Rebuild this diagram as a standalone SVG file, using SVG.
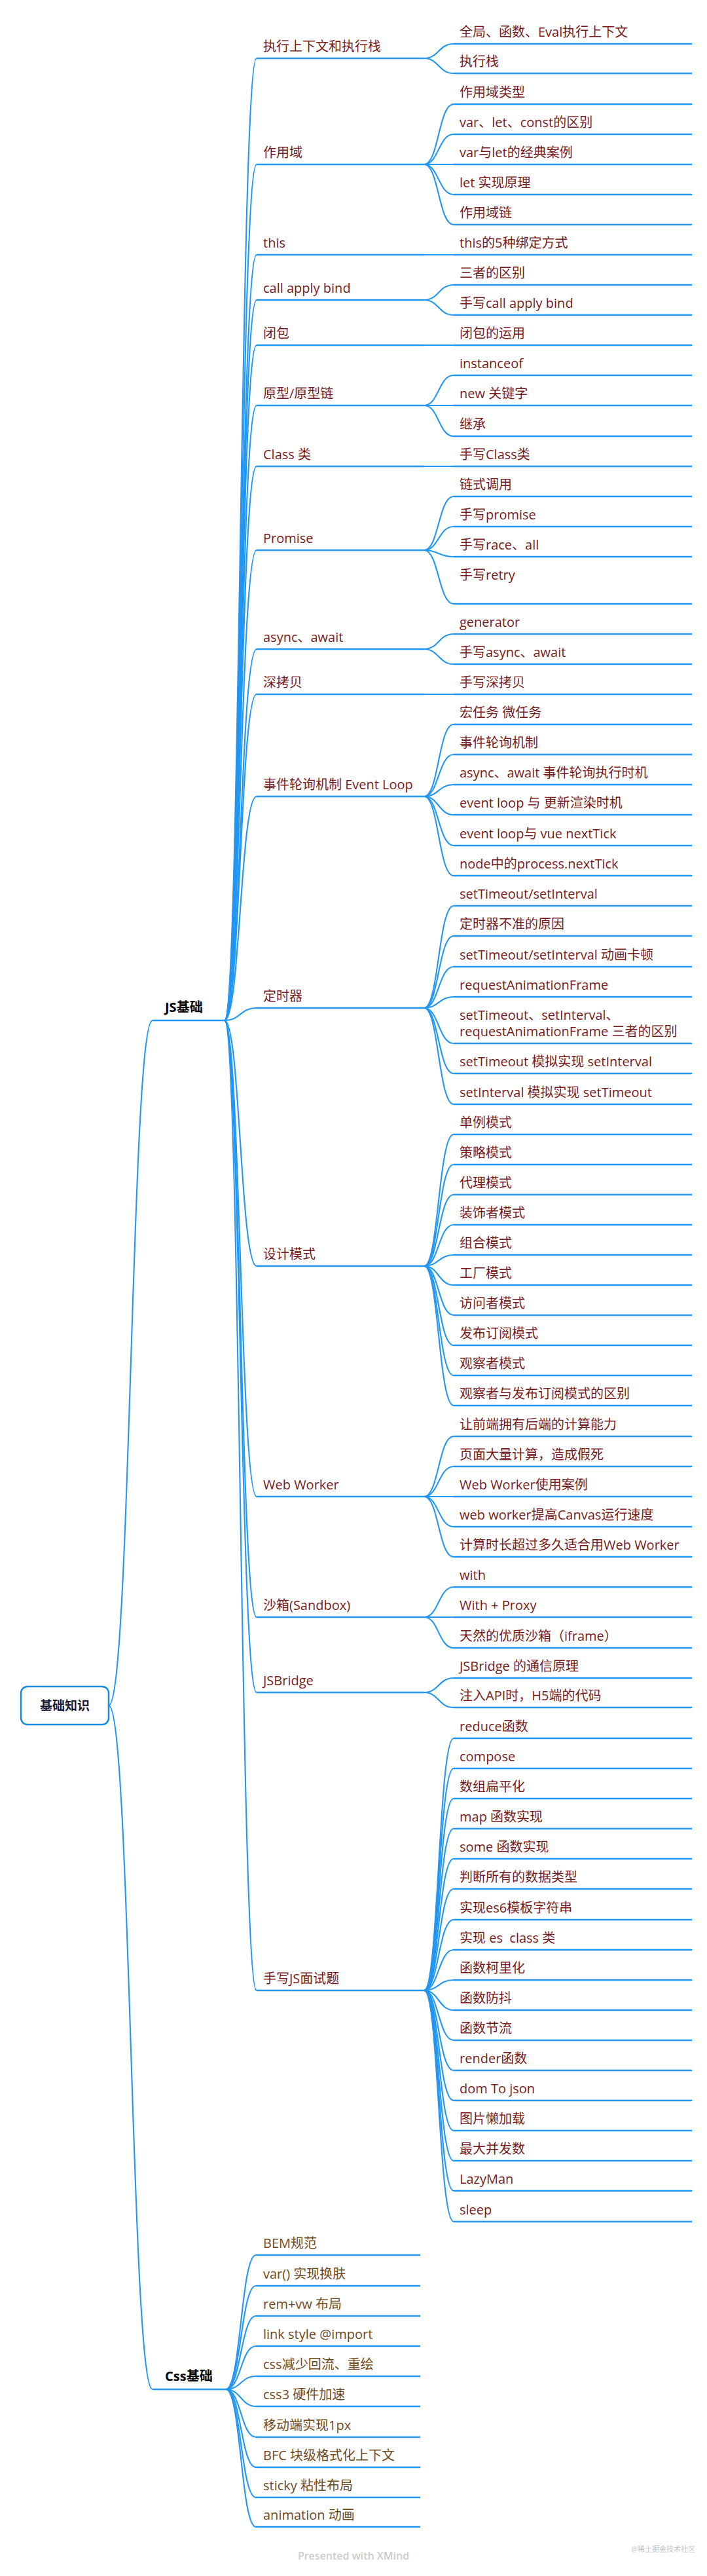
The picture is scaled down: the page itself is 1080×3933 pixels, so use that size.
<svg xmlns="http://www.w3.org/2000/svg" width="1080" height="3933" viewBox="0 0 1080 3933">
<style>
text{font-family:"Open Sans","Noto Sans CJK SC",sans-serif;font-size:20px}
.j{fill:#761b1b}
.c{fill:#6f4a1c}
.b{font-weight:bold;fill:#000}
.r{font-weight:bold;fill:#1c1c3a;font-size:19px}
.u{stroke:#2196f3;stroke-width:2.3;fill:none}
.cn path{stroke:#2196f3;stroke-width:2.1;fill:none}
.wm{fill:#cccccc;font-size:16px;font-weight:600}
</style>
<rect width="1080" height="3933" fill="#fff"/>
<g class="cn" id="connectors">
<path d="M166,2604 C200,2604 200,1558 233,1558"/>
<path d="M166,2604 C200,2604 200,3648 233,3648"/>
<path d="M343,1558 C367,1558 367,89 392,89"/>
<path d="M343,1558 C367,1558 367,251 392,251"/>
<path d="M343,1558 C367,1558 367,389 392,389"/>
<path d="M343,1558 C367,1558 367,458 392,458"/>
<path d="M343,1558 C367,1558 367,527 392,527"/>
<path d="M343,1558 C367,1558 367,619 392,619"/>
<path d="M343,1558 C367,1558 367,712 392,712"/>
<path d="M343,1558 C367,1558 367,840 392,840"/>
<path d="M343,1558 C367,1558 367,991 392,991"/>
<path d="M343,1558 C367,1558 367,1060 392,1060"/>
<path d="M343,1558 C367,1558 367,1216 392,1216"/>
<path d="M343,1558 C367,1558 367,1539 392,1539"/>
<path d="M343,1558 C367,1558 367,1933 392,1933"/>
<path d="M343,1558 C367,1558 367,2285 392,2285"/>
<path d="M343,1558 C367,1558 367,2469 392,2469"/>
<path d="M343,1558 C367,1558 367,2584 392,2584"/>
<path d="M343,1558 C367,1558 367,3039 392,3039"/>
<path d="M345,3648 C368,3648 368,3443 391,3443"/>
<path d="M345,3648 C368,3648 368,3490 391,3490"/>
<path d="M345,3648 C368,3648 368,3536 391,3536"/>
<path d="M345,3648 C368,3648 368,3582 391,3582"/>
<path d="M345,3648 C368,3648 368,3628 391,3628"/>
<path d="M345,3648 C368,3648 368,3674 391,3674"/>
<path d="M345,3648 C368,3648 368,3721 391,3721"/>
<path d="M345,3648 C368,3648 368,3767 391,3767"/>
<path d="M345,3648 C368,3648 368,3813 391,3813"/>
<path d="M345,3648 C368,3648 368,3858 391,3858"/>
<path d="M648,89 C670,89 670,67 693,67"/>
<path d="M648,89 C670,89 670,112 693,112"/>
<path d="M648,251 C670,251 670,159 693,159"/>
<path d="M648,251 C670,251 670,205 693,205"/>
<path d="M648,251 L693,251"/>
<path d="M648,251 C670,251 670,297 693,297"/>
<path d="M648,251 C670,251 670,343 693,343"/>
<path d="M648,389 L693,389"/>
<path d="M648,458 C670,458 670,435 693,435"/>
<path d="M648,458 C670,458 670,481 693,481"/>
<path d="M648,527 L693,527"/>
<path d="M648,619 C670,619 670,573 693,573"/>
<path d="M648,619 L693,619"/>
<path d="M648,619 C670,619 670,666 693,666"/>
<path d="M648,712 L693,712"/>
<path d="M648,840 C670,840 670,758 693,758"/>
<path d="M648,840 C670,840 670,804 693,804"/>
<path d="M648,840 C670,840 670,850 693,850"/>
<path d="M648,840 C670,840 670,922 693,922"/>
<path d="M648,991 C670,991 670,968 693,968"/>
<path d="M648,991 C670,991 670,1014 693,1014"/>
<path d="M648,1060 L693,1060"/>
<path d="M648,1216 C670,1216 670,1106 693,1106"/>
<path d="M648,1216 C670,1216 670,1152 693,1152"/>
<path d="M648,1216 C670,1216 670,1198 693,1198"/>
<path d="M648,1216 C670,1216 670,1244 693,1244"/>
<path d="M648,1216 C670,1216 670,1291 693,1291"/>
<path d="M648,1216 C670,1216 670,1337 693,1337"/>
<path d="M648,1539 C670,1539 670,1383 693,1383"/>
<path d="M648,1539 C670,1539 670,1429 693,1429"/>
<path d="M648,1539 C670,1539 670,1476 693,1476"/>
<path d="M648,1539 C670,1539 670,1522 693,1522"/>
<path d="M648,1539 C670,1539 670,1593 693,1593"/>
<path d="M648,1539 C670,1539 670,1639 693,1639"/>
<path d="M648,1539 C670,1539 670,1686 693,1686"/>
<path d="M648,1933 C670,1933 670,1732 693,1732"/>
<path d="M648,1933 C670,1933 670,1778 693,1778"/>
<path d="M648,1933 C670,1933 670,1824 693,1824"/>
<path d="M648,1933 C670,1933 670,1870 693,1870"/>
<path d="M648,1933 C670,1933 670,1916 693,1916"/>
<path d="M648,1933 C670,1933 670,1962 693,1962"/>
<path d="M648,1933 C670,1933 670,2008 693,2008"/>
<path d="M648,1933 C670,1933 670,2054 693,2054"/>
<path d="M648,1933 C670,1933 670,2100 693,2100"/>
<path d="M648,1933 C670,1933 670,2146 693,2146"/>
<path d="M648,2285 C670,2285 670,2193 693,2193"/>
<path d="M648,2285 C670,2285 670,2239 693,2239"/>
<path d="M648,2285 L693,2285"/>
<path d="M648,2285 C670,2285 670,2331 693,2331"/>
<path d="M648,2285 C670,2285 670,2377 693,2377"/>
<path d="M648,2469 C670,2469 670,2423 693,2423"/>
<path d="M648,2469 L693,2469"/>
<path d="M648,2469 C670,2469 670,2516 693,2516"/>
<path d="M648,2584 C670,2584 670,2562 693,2562"/>
<path d="M648,2584 C670,2584 670,2607 693,2607"/>
<path d="M648,3039 C670,3039 670,2654 693,2654"/>
<path d="M648,3039 C670,3039 670,2700 693,2700"/>
<path d="M648,3039 C670,3039 670,2746 693,2746"/>
<path d="M648,3039 C670,3039 670,2792 693,2792"/>
<path d="M648,3039 C670,3039 670,2838 693,2838"/>
<path d="M648,3039 C670,3039 670,2884 693,2884"/>
<path d="M648,3039 C670,3039 670,2931 693,2931"/>
<path d="M648,3039 C670,3039 670,2977 693,2977"/>
<path d="M648,3039 C670,3039 670,3023 693,3023"/>
<path d="M648,3039 C670,3039 670,3069 693,3069"/>
<path d="M648,3039 C670,3039 670,3115 693,3115"/>
<path d="M648,3039 C670,3039 670,3161 693,3161"/>
<path d="M648,3039 C670,3039 670,3207 693,3207"/>
<path d="M648,3039 C670,3039 670,3253 693,3253"/>
<path d="M648,3039 C670,3039 670,3299 693,3299"/>
<path d="M648,3039 C670,3039 670,3345 693,3345"/>
<path d="M648,3039 C670,3039 670,3392 693,3392"/>
</g>
<g id="root"><rect x="32" y="2575" width="134" height="58" rx="10" fill="#fff" stroke="#1a8ae0" stroke-width="2.5"/><text class="r" x="99" y="2611" text-anchor="middle">基础知识</text></g>
<g id="js"><text class="b" x="252" y="1545">JS基础</text><line class="u" x1="233" y1="1558" x2="343" y2="1558"/></g>
<g id="css"><text class="b" x="252" y="3635">Css基础</text><line class="u" x1="233" y1="3648" x2="345" y2="3648"/></g>
<g id="j1"><text class="j" x="402" y="78">执行上下文和执行栈</text><line class="u" x1="392" y1="89" x2="648" y2="89"/></g>
<g id="j2"><text class="j" x="402" y="240">作用域</text><line class="u" x1="392" y1="251" x2="648" y2="251"/></g>
<g id="j3"><text class="j" x="402" y="378">this</text><line class="u" x1="392" y1="389" x2="648" y2="389"/></g>
<g id="j4"><text class="j" x="402" y="447">call apply bind</text><line class="u" x1="392" y1="458" x2="648" y2="458"/></g>
<g id="j5"><text class="j" x="402" y="516">闭包</text><line class="u" x1="392" y1="527" x2="648" y2="527"/></g>
<g id="j6"><text class="j" x="402" y="608">原型/原型链</text><line class="u" x1="392" y1="619" x2="648" y2="619"/></g>
<g id="j7"><text class="j" x="402" y="701">Class 类</text><line class="u" x1="392" y1="712" x2="648" y2="712"/></g>
<g id="j8"><text class="j" x="402" y="829">Promise</text><line class="u" x1="392" y1="840" x2="648" y2="840"/></g>
<g id="j9"><text class="j" x="402" y="980">async、await</text><line class="u" x1="392" y1="991" x2="648" y2="991"/></g>
<g id="j10"><text class="j" x="402" y="1049">深拷贝</text><line class="u" x1="392" y1="1060" x2="648" y2="1060"/></g>
<g id="j11"><text class="j" x="402" y="1205">事件轮询机制 Event Loop</text><line class="u" x1="392" y1="1216" x2="648" y2="1216"/></g>
<g id="j12"><text class="j" x="402" y="1528">定时器</text><line class="u" x1="392" y1="1539" x2="648" y2="1539"/></g>
<g id="j13"><text class="j" x="402" y="1922">设计模式</text><line class="u" x1="392" y1="1933" x2="648" y2="1933"/></g>
<g id="j14"><text class="j" x="402" y="2274">Web Worker</text><line class="u" x1="392" y1="2285" x2="648" y2="2285"/></g>
<g id="j15"><text class="j" x="402" y="2458">沙箱(Sandbox)</text><line class="u" x1="392" y1="2469" x2="648" y2="2469"/></g>
<g id="j16"><text class="j" x="402" y="2573">JSBridge</text><line class="u" x1="392" y1="2584" x2="648" y2="2584"/></g>
<g id="j17"><text class="j" x="402" y="3028">手写JS面试题</text><line class="u" x1="392" y1="3039" x2="648" y2="3039"/></g>
<g id="k1"><text class="j" x="702" y="56">全局、函数、Eval执行上下文</text><line class="u" x1="693" y1="67" x2="1057" y2="67"/></g>
<g id="k2"><text class="j" x="702" y="101">执行栈</text><line class="u" x1="693" y1="112" x2="1057" y2="112"/></g>
<g id="k3"><text class="j" x="702" y="148">作用域类型</text><line class="u" x1="693" y1="159" x2="1057" y2="159"/></g>
<g id="k4"><text class="j" x="702" y="194">var、let、const的区别</text><line class="u" x1="693" y1="205" x2="1057" y2="205"/></g>
<g id="k5"><text class="j" x="702" y="240">var与let的经典案例</text><line class="u" x1="693" y1="251" x2="1057" y2="251"/></g>
<g id="k6"><text class="j" x="702" y="286">let 实现原理</text><line class="u" x1="693" y1="297" x2="1057" y2="297"/></g>
<g id="k7"><text class="j" x="702" y="332">作用域链</text><line class="u" x1="693" y1="343" x2="1057" y2="343"/></g>
<g id="k8"><text class="j" x="702" y="378">this的5种绑定方式</text><line class="u" x1="693" y1="389" x2="1057" y2="389"/></g>
<g id="k9"><text class="j" x="702" y="424">三者的区别</text><line class="u" x1="693" y1="435" x2="1057" y2="435"/></g>
<g id="k10"><text class="j" x="702" y="470">手写call apply bind</text><line class="u" x1="693" y1="481" x2="1057" y2="481"/></g>
<g id="k11"><text class="j" x="702" y="516">闭包的运用</text><line class="u" x1="693" y1="527" x2="1057" y2="527"/></g>
<g id="k12"><text class="j" x="702" y="562">instanceof</text><line class="u" x1="693" y1="573" x2="1057" y2="573"/></g>
<g id="k13"><text class="j" x="702" y="608">new 关键字</text><line class="u" x1="693" y1="619" x2="1057" y2="619"/></g>
<g id="k14"><text class="j" x="702" y="655">继承</text><line class="u" x1="693" y1="666" x2="1057" y2="666"/></g>
<g id="k15"><text class="j" x="702" y="701">手写Class类</text><line class="u" x1="693" y1="712" x2="1057" y2="712"/></g>
<g id="k16"><text class="j" x="702" y="747">链式调用</text><line class="u" x1="693" y1="758" x2="1057" y2="758"/></g>
<g id="k17"><text class="j" x="702" y="793">手写promise</text><line class="u" x1="693" y1="804" x2="1057" y2="804"/></g>
<g id="k18"><text class="j" x="702" y="839">手写race、all</text><line class="u" x1="693" y1="850" x2="1057" y2="850"/></g>
<g id="k19"><text class="j" x="702" y="885">手写retry</text><line class="u" x1="693" y1="922" x2="1057" y2="922"/></g>
<g id="k20"><text class="j" x="702" y="957">generator</text><line class="u" x1="693" y1="968" x2="1057" y2="968"/></g>
<g id="k21"><text class="j" x="702" y="1003">手写async、await</text><line class="u" x1="693" y1="1014" x2="1057" y2="1014"/></g>
<g id="k22"><text class="j" x="702" y="1049">手写深拷贝</text><line class="u" x1="693" y1="1060" x2="1057" y2="1060"/></g>
<g id="k23"><text class="j" x="702" y="1095">宏任务 微任务</text><line class="u" x1="693" y1="1106" x2="1057" y2="1106"/></g>
<g id="k24"><text class="j" x="702" y="1141">事件轮询机制</text><line class="u" x1="693" y1="1152" x2="1057" y2="1152"/></g>
<g id="k25"><text class="j" x="702" y="1187">async、await 事件轮询执行时机</text><line class="u" x1="693" y1="1198" x2="1057" y2="1198"/></g>
<g id="k26"><text class="j" x="702" y="1233">event loop 与 更新渲染时机</text><line class="u" x1="693" y1="1244" x2="1057" y2="1244"/></g>
<g id="k27"><text class="j" x="702" y="1280">event loop与 vue nextTick</text><line class="u" x1="693" y1="1291" x2="1057" y2="1291"/></g>
<g id="k28"><text class="j" x="702" y="1326">node中的process.nextTick</text><line class="u" x1="693" y1="1337" x2="1057" y2="1337"/></g>
<g id="k29"><text class="j" x="702" y="1372">setTimeout/setInterval</text><line class="u" x1="693" y1="1383" x2="1057" y2="1383"/></g>
<g id="k30"><text class="j" x="702" y="1418">定时器不准的原因</text><line class="u" x1="693" y1="1429" x2="1057" y2="1429"/></g>
<g id="k31"><text class="j" x="702" y="1465">setTimeout/setInterval 动画卡顿</text><line class="u" x1="693" y1="1476" x2="1057" y2="1476"/></g>
<g id="k32"><text class="j" x="702" y="1511">requestAnimationFrame</text><line class="u" x1="693" y1="1522" x2="1057" y2="1522"/></g>
<g id="k33"><text class="j" x="702" y="1557">setTimeout、setInterval、</text><text class="j" x="702" y="1582">requestAnimationFrame 三者的区别</text><line class="u" x1="693" y1="1593" x2="1057" y2="1593"/></g>
<g id="k34"><text class="j" x="702" y="1628">setTimeout 模拟实现 setInterval</text><line class="u" x1="693" y1="1639" x2="1057" y2="1639"/></g>
<g id="k35"><text class="j" x="702" y="1675">setInterval 模拟实现 setTimeout</text><line class="u" x1="693" y1="1686" x2="1057" y2="1686"/></g>
<g id="k36"><text class="j" x="702" y="1721">单例模式</text><line class="u" x1="693" y1="1732" x2="1057" y2="1732"/></g>
<g id="k37"><text class="j" x="702" y="1767">策略模式</text><line class="u" x1="693" y1="1778" x2="1057" y2="1778"/></g>
<g id="k38"><text class="j" x="702" y="1813">代理模式</text><line class="u" x1="693" y1="1824" x2="1057" y2="1824"/></g>
<g id="k39"><text class="j" x="702" y="1859">装饰者模式</text><line class="u" x1="693" y1="1870" x2="1057" y2="1870"/></g>
<g id="k40"><text class="j" x="702" y="1905">组合模式</text><line class="u" x1="693" y1="1916" x2="1057" y2="1916"/></g>
<g id="k41"><text class="j" x="702" y="1951">工厂模式</text><line class="u" x1="693" y1="1962" x2="1057" y2="1962"/></g>
<g id="k42"><text class="j" x="702" y="1997">访问者模式</text><line class="u" x1="693" y1="2008" x2="1057" y2="2008"/></g>
<g id="k43"><text class="j" x="702" y="2043">发布订阅模式</text><line class="u" x1="693" y1="2054" x2="1057" y2="2054"/></g>
<g id="k44"><text class="j" x="702" y="2089">观察者模式</text><line class="u" x1="693" y1="2100" x2="1057" y2="2100"/></g>
<g id="k45"><text class="j" x="702" y="2135">观察者与发布订阅模式的区别</text><line class="u" x1="693" y1="2146" x2="1057" y2="2146"/></g>
<g id="k46"><text class="j" x="702" y="2182">让前端拥有后端的计算能力</text><line class="u" x1="693" y1="2193" x2="1057" y2="2193"/></g>
<g id="k47"><text class="j" x="702" y="2228">页面大量计算，造成假死</text><line class="u" x1="693" y1="2239" x2="1057" y2="2239"/></g>
<g id="k48"><text class="j" x="702" y="2274">Web Worker使用案例</text><line class="u" x1="693" y1="2285" x2="1057" y2="2285"/></g>
<g id="k49"><text class="j" x="702" y="2320">web worker提高Canvas运行速度</text><line class="u" x1="693" y1="2331" x2="1057" y2="2331"/></g>
<g id="k50"><text class="j" x="702" y="2366">计算时长超过多久适合用Web Worker</text><line class="u" x1="693" y1="2377" x2="1057" y2="2377"/></g>
<g id="k51"><text class="j" x="702" y="2412">with</text><line class="u" x1="693" y1="2423" x2="1057" y2="2423"/></g>
<g id="k52"><text class="j" x="702" y="2458">With + Proxy</text><line class="u" x1="693" y1="2469" x2="1057" y2="2469"/></g>
<g id="k53"><text class="j" x="702" y="2505">天然的优质沙箱（iframe）</text><line class="u" x1="693" y1="2516" x2="1057" y2="2516"/></g>
<g id="k54"><text class="j" x="702" y="2551">JSBridge 的通信原理</text><line class="u" x1="693" y1="2562" x2="1057" y2="2562"/></g>
<g id="k55"><text class="j" x="702" y="2596">注入API时，H5端的代码</text><line class="u" x1="693" y1="2607" x2="1057" y2="2607"/></g>
<g id="k56"><text class="j" x="702" y="2643">reduce函数</text><line class="u" x1="693" y1="2654" x2="1057" y2="2654"/></g>
<g id="k57"><text class="j" x="702" y="2689">compose</text><line class="u" x1="693" y1="2700" x2="1057" y2="2700"/></g>
<g id="k58"><text class="j" x="702" y="2735">数组扁平化</text><line class="u" x1="693" y1="2746" x2="1057" y2="2746"/></g>
<g id="k59"><text class="j" x="702" y="2781">map 函数实现</text><line class="u" x1="693" y1="2792" x2="1057" y2="2792"/></g>
<g id="k60"><text class="j" x="702" y="2827">some 函数实现</text><line class="u" x1="693" y1="2838" x2="1057" y2="2838"/></g>
<g id="k61"><text class="j" x="702" y="2873">判断所有的数据类型</text><line class="u" x1="693" y1="2884" x2="1057" y2="2884"/></g>
<g id="k62"><text class="j" x="702" y="2920">实现es6模板字符串</text><line class="u" x1="693" y1="2931" x2="1057" y2="2931"/></g>
<g id="k63"><text class="j" x="702" y="2966" style="white-space:pre">实现 es  class 类</text><line class="u" x1="693" y1="2977" x2="1057" y2="2977"/></g>
<g id="k64"><text class="j" x="702" y="3012">函数柯里化</text><line class="u" x1="693" y1="3023" x2="1057" y2="3023"/></g>
<g id="k65"><text class="j" x="702" y="3058">函数防抖</text><line class="u" x1="693" y1="3069" x2="1057" y2="3069"/></g>
<g id="k66"><text class="j" x="702" y="3104">函数节流</text><line class="u" x1="693" y1="3115" x2="1057" y2="3115"/></g>
<g id="k67"><text class="j" x="702" y="3150">render函数</text><line class="u" x1="693" y1="3161" x2="1057" y2="3161"/></g>
<g id="k68"><text class="j" x="702" y="3196">dom To json</text><line class="u" x1="693" y1="3207" x2="1057" y2="3207"/></g>
<g id="k69"><text class="j" x="702" y="3242">图片懒加载</text><line class="u" x1="693" y1="3253" x2="1057" y2="3253"/></g>
<g id="k70"><text class="j" x="702" y="3288">最大并发数</text><line class="u" x1="693" y1="3299" x2="1057" y2="3299"/></g>
<g id="k71"><text class="j" x="702" y="3334">LazyMan</text><line class="u" x1="693" y1="3345" x2="1057" y2="3345"/></g>
<g id="k72"><text class="j" x="702" y="3381">sleep</text><line class="u" x1="693" y1="3392" x2="1057" y2="3392"/></g>
<g id="c1"><text class="c" x="402" y="3432">BEM规范</text><line class="u" x1="391" y1="3443" x2="642" y2="3443"/></g>
<g id="c2"><text class="c" x="402" y="3479">var() 实现换肤</text><line class="u" x1="391" y1="3490" x2="642" y2="3490"/></g>
<g id="c3"><text class="c" x="402" y="3525">rem+vw 布局</text><line class="u" x1="391" y1="3536" x2="642" y2="3536"/></g>
<g id="c4"><text class="c" x="402" y="3571">link style @import</text><line class="u" x1="391" y1="3582" x2="642" y2="3582"/></g>
<g id="c5"><text class="c" x="402" y="3617">css减少回流、重绘</text><line class="u" x1="391" y1="3628" x2="642" y2="3628"/></g>
<g id="c6"><text class="c" x="402" y="3663">css3 硬件加速</text><line class="u" x1="391" y1="3674" x2="642" y2="3674"/></g>
<g id="c7"><text class="c" x="402" y="3710">移动端实现1px</text><line class="u" x1="391" y1="3721" x2="642" y2="3721"/></g>
<g id="c8"><text class="c" x="402" y="3756">BFC 块级格式化上下文</text><line class="u" x1="391" y1="3767" x2="642" y2="3767"/></g>
<g id="c9"><text class="c" x="402" y="3802">sticky 粘性布局</text><line class="u" x1="391" y1="3813" x2="642" y2="3813"/></g>
<g id="c10"><text class="c" x="402" y="3847">animation 动画</text><line class="u" x1="391" y1="3858" x2="642" y2="3858"/></g>
<text class="wm" x="540" y="3908" text-anchor="middle">Presented with XMind</text>
<text x="1062" y="3896" text-anchor="end" style="font-size:11px;fill:#c4c4c4">@稀土掘金技术社区</text>
</svg>
